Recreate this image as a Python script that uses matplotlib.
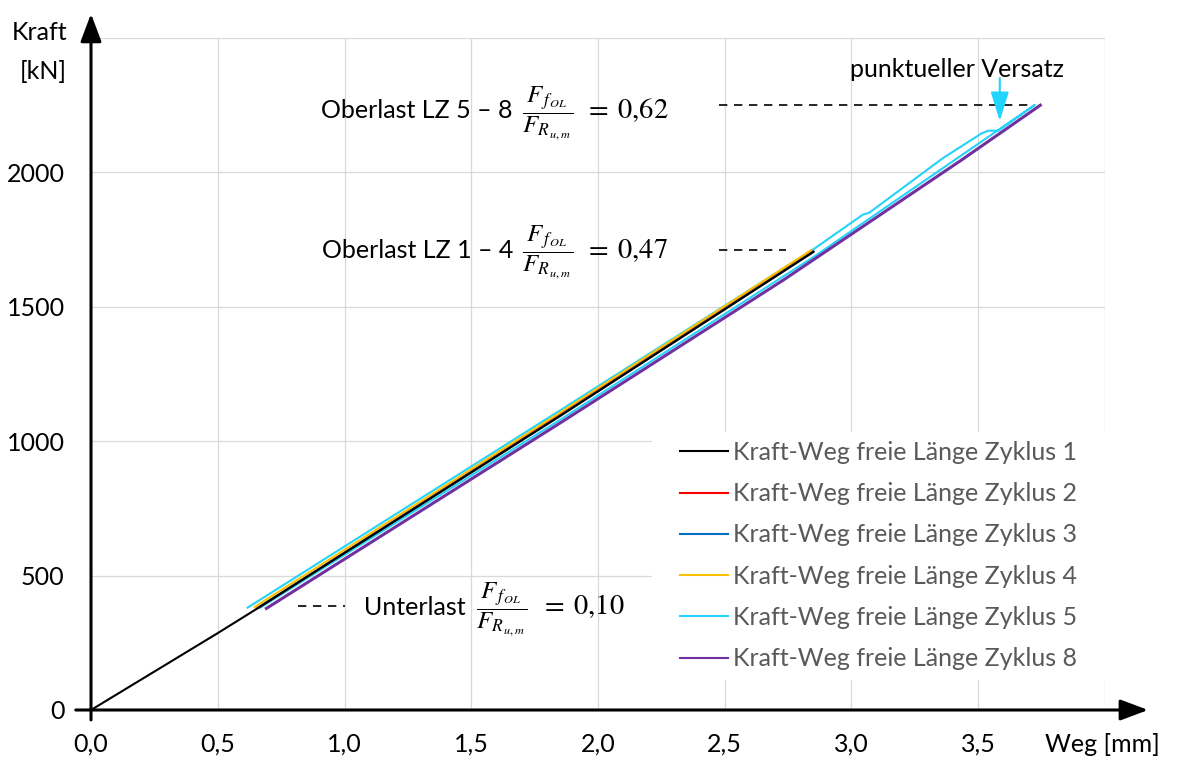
import matplotlib
matplotlib.use("Agg")
import matplotlib.pyplot as plt
from matplotlib.patches import Rectangle

plt.rcParams["font.family"] = ["Lato", "DejaVu Sans"]
plt.rcParams["mathtext.fontset"] = "stix"

# Kraft-Weg-Kurven der freien Länge (Weg in mm, Kraft in kN)
zyklus1_weg = [0.0, 0.5, 0.665, 1.846, 2.85]
zyklus1_kraft = [0, 286, 383, 1091, 1704]
zyklus2_weg = [0.655, 1.840, 2.845]
zyklus2_kraft = [378, 1093, 1706]
zyklus3_weg = [0.660, 1.845, 2.850]
zyklus3_kraft = [381, 1092, 1706]
zyklus4_weg = [0.645, 1.835, 2.840]
zyklus4_kraft = [383, 1097, 1710]
zyklus5_weg = [0.618, 1.846, 2.85, 3.045, 3.07, 3.362, 3.513, 3.539, 3.579,
               3.657, 3.723, 2.85, 1.846, 0.668]
zyklus5_kraft = [381, 1112, 1714, 1843, 1850, 2054, 2145, 2155, 2155,
                 2207, 2251, 1685, 1077, 381]
zyklus8_weg = [0.692, 1.846, 2.732, 3.434, 3.745]
zyklus8_kraft = [378, 1065, 1600, 2046, 2250]

x_ticks = [0.0, 0.5, 1.0, 1.5, 2.0, 2.5, 3.0, 3.5]
x_ticklabels = ["0,0", "0,5", "1,0", "1,5", "2,0", "2,5", "3,0", "3,5"]
y_ticks = [0, 500, 1000, 1500, 2000]
y_ticklabels = ["0", "500", "1000", "1500", "2000"]

oberlast_5_8 = 2250
oberlast_1_4 = 1711
unterlast = 387

FS = 18

fig = plt.figure(figsize=(11.77, 7.61), dpi=100)
ax = fig.add_axes([0.07732, 0.06702, 0.8615, 0.88305])
ax.set_xlim(0, 4.0)
ax.set_ylim(0, 2500)
for s in ax.spines.values():
    s.set_visible(False)

grid_c = "#d9d9d9"
for gx in [0.5, 1.0, 1.5, 2.0, 2.5, 3.0, 3.5, 4.0]:
    ax.plot([gx, gx], [0, 2500], color=grid_c, lw=0.9, zorder=0)
for gy in [500, 1000, 1500, 2000, 2500]:
    ax.plot([0, 4.0], [gy, gy], color=grid_c, lw=0.9, zorder=0)

ax.set_xticks(x_ticks)
ax.set_xticklabels(x_ticklabels)
ax.set_yticks(y_ticks)
ax.set_yticklabels(y_ticklabels)
ax.tick_params(length=0, labelsize=FS, colors="black")
ax.tick_params(axis="x", pad=16)
ax.tick_params(axis="y", pad=19)

lw = 1.5
ax.plot(zyklus1_weg, zyklus1_kraft, color="black", lw=lw, zorder=5,
        label="Kraft-Weg freie Länge Zyklus 1")
ax.plot(zyklus2_weg, zyklus2_kraft, color="#ff0000", lw=lw, zorder=3,
        label="Kraft-Weg freie Länge Zyklus 2")
ax.plot(zyklus3_weg, zyklus3_kraft, color="#0070c0", lw=lw, zorder=3,
        label="Kraft-Weg freie Länge Zyklus 3")
ax.plot(zyklus4_weg, zyklus4_kraft, color="#ffc000", lw=lw, zorder=4,
        label="Kraft-Weg freie Länge Zyklus 4")
ax.plot(zyklus5_weg, zyklus5_kraft, color="#22d3fb", lw=lw, zorder=2,
        label="Kraft-Weg freie Länge Zyklus 5")
ax.plot(zyklus8_weg, zyklus8_kraft, color="#7030a0", lw=2.2, zorder=6,
        label="Kraft-Weg freie Länge Zyklus 8")

# Achsen mit Pfeilspitzen
arrow_kw = dict(arrowstyle="-|>,head_length=0.85,head_width=0.32", color="black",
                lw=2.2, mutation_scale=20, shrinkA=0, shrinkB=0)
ax.annotate("", xy=(4.17, 0), xytext=(-0.06, 0), arrowprops=arrow_kw,
            annotation_clip=False, zorder=8)
ax.annotate("", xy=(0, 2590), xytext=(0, -37), arrowprops=arrow_kw,
            annotation_clip=False, zorder=8)

ax.text(-0.201, 2522, "Kraft", fontsize=FS, ha="center", va="center")
ax.text(-0.189, 2374, "[kN]", fontsize=FS, ha="center", va="center")
ax.text(3.988, -130, "Weg [mm]", fontsize=FS, ha="center", va="center",
        clip_on=False)

# Lastniveaus
dash = dict(color="black", lw=1.2, linestyle=(0, (5, 4)), zorder=7)
ax.plot([2.476, 3.717], [oberlast_5_8, oberlast_5_8], **dash)
ax.plot([2.476, 2.74], [oberlast_1_4, oberlast_1_4], **dash)
ax.plot([0.815, 1.0], [unterlast, unterlast], **dash)

frac = r"$\dfrac{F_{\,f_{\,OL}}}{F_{R_{\,u,m}}}$"
MS = 18
ES = 20.5
ax.text(1.700, 2202, frac, fontsize=MS, va="baseline")
ax.text(0.907, 2202, "Oberlast LZ 5 – 8", fontsize=FS, va="baseline")
ax.text(1.945, 2202, r"$=\;0{,}62$", fontsize=ES, va="baseline")
ax.text(0.911, 1682, "Oberlast LZ 1 – 4", fontsize=FS, va="baseline")
ax.text(1.700, 1682, frac, fontsize=MS, va="baseline")
ax.text(1.945, 1682, r"$=\;0{,}47$", fontsize=ES, va="baseline")
ax.text(1.077, 355, "Unterlast", fontsize=FS, va="baseline")
ax.text(1.519, 355, frac, fontsize=MS, va="baseline")
ax.text(1.771, 355, r"$=\;0{,}10$", fontsize=ES, va="baseline")

ax.text(2.994, 2355, "punktueller Versatz", fontsize=FS, va="baseline")
ax.annotate("", xy=(3.585, 2191), xytext=(3.585, 2351),
            arrowprops=dict(arrowstyle="-|>,head_length=0.9,head_width=0.28",
                            color="#22d3fb", lw=1.5, mutation_scale=20,
                            shrinkA=0, shrinkB=0), zorder=8)

# Legendenhintergrund
ax.add_patch(Rectangle((2.213, 112), 1.9, 922, facecolor="white",
                       edgecolor="none", zorder=1, clip_on=False))
leg = ax.legend(loc="upper left", bbox_to_anchor=(680 / 1177, 1 - 441 / 761),
                bbox_transform=fig.transFigure, frameon=False, fontsize=FS,
                handlelength=1.92, handletextpad=0.2, labelspacing=0.73,
                borderpad=0, borderaxespad=0, labelcolor="#595959")
for h in leg.get_lines():
    h.set_linewidth(1.5)

fig.savefig("out.png", dpi=100)
